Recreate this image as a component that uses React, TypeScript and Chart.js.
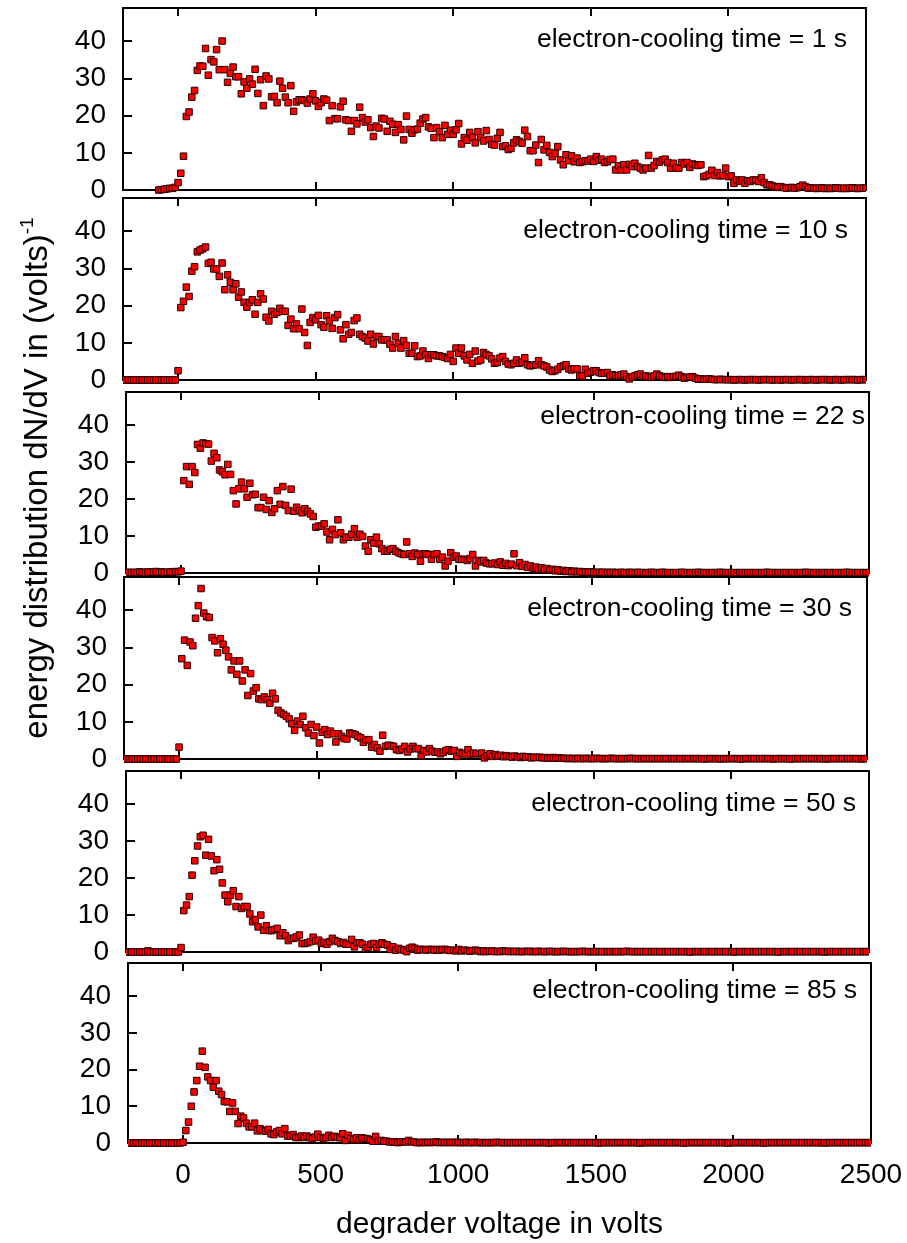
import React, { useEffect, useRef } from "react";
import { Chart, registerables } from "chart.js";

Chart.register(...registerables);

const FONT = "'Liberation Sans', Arial, Helvetica, sans-serif";
Chart.defaults.font.family = FONT;
Chart.defaults.color = "#000";

// ---- axes ----
const X_MIN = -200;
const X_MAX = 2500;
const Y_MIN = 0;
const Y_MAX = 49;
const X_TICKS = [0, 500, 1000, 1500, 2000, 2500];
const Y_TICKS = [0, 10, 20, 30, 40];
const X_TITLE = "degrader voltage in volts";
const Y_TITLE = "energy distribution dN/dV in (volts)";
const Y_TITLE_SUP = "-1";

// ---- data: dN/dV sampled every 10 V, starting at the given voltage ----
const VOLTAGE_STEP = 10;
const COOLING_TIMES = ["1", "10", "22", "30", "50", "85"];
const SERIES_START_VOLTAGE = [-70, -200, -200, -200, -200, -200];

const DIST_1S = [
  0, 0.1, 0.2, 0.3, 0.45, 0.45, 0.7,
  2.0, 4.5, 9.1, 19.8, 21, 25, 26.8, 32.2, 33.4, 33.3,
  38.1, 30.9, 35.1, 34.5, 37.8, 32.4, 40.1, 32.4, 29, 31.4,
  33.1, 30.5, 30.5, 25.9, 29.1, 27.4, 29.9, 28.5, 32.5, 26,
  29.7, 22.7, 30.7, 29.9, 25.1, 25.2, 23.5, 29.3, 27.4, 25,
  23.5, 28.1, 21.2, 23.7, 24.3, 24.3, 24.1, 23.4, 24.5, 25.9,
  24, 22.5, 23.5, 24.5, 24.2, 18.7, 22.7, 19.2, 19.2, 22.4,
  23.9, 18.9, 18.7, 15.8, 18.7, 17.8, 22.3, 19.5, 18.3, 18.9,
  16.8, 14.4, 17.2, 16.7, 19.3, 19.1, 15.8, 18.5, 17.7, 15.5,
  17.6, 16.3, 13.5, 19.9, 16.3, 15.3, 16.2, 16.4, 18, 19.1,
  19.5, 17, 16.6, 14.1, 16.8, 15.7, 14.1, 17.4, 15, 16.1,
  15, 16.2, 17.9, 12.4, 14.1, 13.4, 15.5, 14.2, 12.7, 15.7,
  14.1, 13.2, 16, 13.6, 12.3, 12.1, 13.9, 15.5, 11.7, 11.9,
  10.9, 11.2, 12.7, 13.5, 13.1, 12.6, 16.1, 14.4, 10.6, 10.6,
  12.1, 7.4, 13.6, 10.8, 12, 10.1, 9, 9.9, 11.7, 8.1,
  6.8, 9.5, 7.9, 9.2, 7.6, 8.6, 7.4, 7.6, 7.9, 7.8,
  8.3, 7.7, 9, 8, 8.3, 7.4, 7.6, 8.2, 8.3, 5.4,
  6.5, 5.4, 6.8, 5.4, 6.9, 6.3, 7.2, 6.3, 5.9, 5.4,
  5.9, 9.3, 5.9, 6.6, 7.7, 7.5, 8.1, 8.3, 7.4, 5.9,
  7.2, 5.9, 5.9, 7.4, 7, 7.4, 6.1, 7, 6.8, 6.6,
  6.8, 3.6, 3.8, 4.2, 5.3, 3.9, 4.7, 3.8, 3.9, 5.9,
  3.6, 3.8, 1.8, 2.7, 2.3, 2.7, 1.8, 2.5, 2.3, 2.7,
  2.7, 2.3, 3.3, 2, 1.4, 1.4, 1.1, 0.9, 0.7, 0.9,
  0.7, 0.5, 0.6, 0.7, 0.5, 0.6, 0.9, 1.3, 0.9, 0.5,
  0.6, 0.5, 0.4, 0.5, 0.6, 0.4, 0.5, 0.4, 0.5, 0.6,
  0.5, 0.4, 0.5, 0.4, 0.5, 0.6, 0.5, 0.4, 0.5, 0.5,
  0.5,
];

const DIST_10S = [
  0, 0, 0, 0, 0, 0, 0, 0, 0, 0,
  0, 0, 0, 0, 0, 0, 0, 0, 0, 0,
  2.5, 19.5, 21.2, 25, 22.5, 29.3, 30.5, 34.5, 35, 35.3,
  35.8, 31.4, 31.7, 29.9, 29.9, 27.9, 31.5, 24.3, 28.3, 26.3,
  24.3, 25.9, 22.3, 23.7, 20.9, 19.6, 20.9, 21.6, 17.7, 20.9,
  23.2, 21.8, 16.9, 15.9, 18.5, 17.7, 18.2, 19.3, 18.5, 18.5,
  14.7, 16.4, 13.8, 15.1, 13.8, 19.1, 12.8, 9.3, 15.5, 16.8,
  16.2, 17.4, 14.9, 14.2, 17.3, 15.9, 13.9, 16.8, 17.6, 13.5,
  11.1, 14.9, 12.3, 12.8, 16, 16.7, 12.3, 11.7, 11.3, 10.5,
  12.3, 9.7, 11.7, 11.7, 10.8, 10.8, 10.8, 9.6, 8.6, 11.7,
  9.9, 8.6, 10.6, 9.3, 7.2, 7.2, 9.2, 6.3, 6.5, 7.8,
  6.8, 5.8, 6.8, 6.8, 6.5, 6.5, 6.3, 6.1, 5.8, 6.9,
  5, 8.6, 7.2, 8.6, 6.5, 5.4, 6.9, 4.5, 7.8, 5.1,
  5.4, 7.4, 6.9, 6.5, 5.7, 4.5, 4.7, 5.9, 6.3, 5.0,
  4.3, 4.1, 4.5, 5.4, 4.5, 4.8, 6, 4.1, 3.8, 4.0,
  4.1, 5.2, 4.1, 3.8, 3.5, 2.7, 2.3, 2.5, 2.9, 3.6,
  3.8, 4.1, 3.0, 2.7, 3, 3, 1.1, 1.1, 2.9, 1.8,
  2.1, 2.5, 2.5, 2, 1.8, 1.9, 2.0, 1.1, 1.4, 1.2,
  1.1, 1.4, 1.6, 0.9, 0.3, 0.8, 1.1, 1.4, 1.6, 0.9,
  1.1, 0.9, 0.7, 1.1, 1.6, 1.1, 0.9, 0.7, 0.9, 0.7,
  0.9, 1.0, 1.3, 0.9, 0.5, 0.7, 0.8, 0.9, 0.5, 0.2,
  0.3, 0.2, 0.2, 0.3, 0.2, 0.1, 0.1, 0.2, 0.1, 0.1,
  0.1, 0.1, 0, 0.1, 0.1, 0.1, 0, 0.1, 0.1, 0.1,
  0.1, 0, 0.1, 0.1, 0.1, 0.1, 0, 0.1, 0.1, 0,
  0.1, 0.1, 0.1, 0, 0.1, 0.1, 0.1, 0.1, 0, 0.1,
  0.1, 0.1, 0, 0.1, 0.1, 0.1, 0.1, 0, 0.1, 0.1,
  0.1, 0, 0.1, 0.1, 0.1, 0.1, 0.1, 0, 0.1, 0.1,
  0.1,
];

const DIST_22S = [
  0.1, 0.2, 0.1, 0.2, 0.1, 0.3, 0.2, 0.1, 0.3, 0.2,
  0.2, 0.4, 0.2, 0.3, 0.1, 0.2, 0.3, 0.2, 0.4, 0.3,
  0.5, 25, 28.8, 24, 28.8, 27.2, 34.8, 33.8, 35.2, 35,
  34.9, 30.3, 32.4, 31.2, 27.9, 27.4, 26.6, 29.4, 26.7, 22.3,
  18.7, 22.8, 24.6, 22.8, 20.5, 24.3, 21.2, 21.3, 17.7, 17.7,
  20.5, 17.2, 19.6, 16.4, 17.4, 22.3, 18.6, 23.4, 18.3, 16.9,
  22.7, 16.7, 17.8, 16.9, 16.3, 17.4, 16.7, 16, 15.3, 12.4,
  12.7, 12.7, 13.3, 11.1, 9, 11.8, 10.4, 14.4, 10.9, 9,
  9.7, 9.7, 10.5, 12, 9.7, 10.5, 9.9, 7.3, 5.9, 9,
  8.1, 9.7, 7.9, 6.6, 5.9, 5.9, 6.4, 6.6, 5.9, 5.5,
  5.2, 5, 8.4, 5.2, 4.5, 5.4, 5, 3.2, 5.2, 5.2,
  5, 3.7, 5, 5.2, 3.7, 4.3, 1.9, 3.2, 5.5, 4.3,
  4.6, 3.7, 3.7, 3.7, 3.4, 3.9, 5, 1.9, 3.4, 3,
  3.4, 2.7, 2.5, 2.5, 2.7, 2.3, 3.0, 2.1, 2.6, 2.0,
  2.4, 5.2, 2.0, 2.8, 1.8, 2.3, 1.5, 1.9, 1.2, 1.6,
  1.0, 1.4, 0.9, 1.2, 0.8, 1.0, 0.6, 0.9, 0.5, 0.7,
  0.4, 0.6, 0.3, 0.5, 0.3, 0.4, 0.2, 0.3, 0.2, 0.3,
  0.2, 0.1, 0.2, 0.2, 0.1, 0.2, 0.1, 0.2, 0.1, 0.1,
  0.2, 0.1, 0.1, 0.2, 0.1, 0.1, 0.2, 0.1, 0.1, 0.1,
  0.1, 0.2, 0.1, 0.1, 0.1, 0.2, 0.1, 0.1, 0.1, 0.1,
  0.1, 0.1, 0.2, 0.1, 0.1, 0.1, 0.1, 0.1, 0.2, 0.1,
  0.1, 0.1, 0.1, 0.1, 0.1, 0.1, 0.2, 0.1, 0.1, 0.1,
  0.1, 0.1, 0.1, 0.1, 0.1, 0.1, 0.1, 0.1, 0.1, 0.1,
  0.1, 0.1, 0.1, 0.2, 0.1, 0.1, 0.1, 0.1, 0.1, 0.1,
  0.1, 0.1, 0.1, 0.1, 0.1, 0.1, 0.1, 0.2, 0.1, 0.1,
  0.1, 0.1, 0.1, 0.1, 0.1, 0.1, 0.1, 0.1, 0.1, 0.1,
  0.1, 0.1, 0.2, 0.1, 0.1, 0.1, 0.1, 0.1, 0.1, 0.1,
  0.1,
];

const DIST_30S = [
  0, 0, 0, 0, 0, 0, 0, 0, 0, 0,
  0, 0, 0, 0, 0, 0, 0, 0, 0, 0,
  3.2, 27, 32, 25.2, 31.5, 30.5, 37.9, 41.3, 45.9, 39.3,
  38.3, 38.1, 32.7, 31.8, 28.6, 32.4, 30.9, 29.3, 27.5, 24,
  26.4, 22.8, 26.4, 21, 24, 17.1, 23, 18.3, 19.2, 16.2,
  16, 16.7, 16, 15, 17.7, 16.2, 13.1, 12.4, 12, 11.5,
  10.8, 9.5, 7.7, 10.2, 9.3, 11.5, 8.4, 7, 9.3, 6.3,
  8.6, 4.3, 7.2, 7.9, 6.6, 7.5, 6.8, 4.6, 6.8, 6.1,
  5.5, 5.4, 7, 6.8, 6.6, 6.1, 5.7, 4.5, 5.2, 5.2,
  3.2, 3.9, 3, 2.1, 6.4, 3.4, 3.7, 3.6, 3.4, 2.5,
  2.3, 2.7, 3.4, 1.9, 2.7, 3.4, 2.8, 2.8, 0.9, 2.3,
  1.9, 2.8, 2.1, 1.8, 1.9, 1.4, 1.8, 2.3, 2.5, 2.1,
  2.3, 0.7, 1.8, 1.4, 1.4, 2.5, 1.2, 1.6, 1.4, 1.4,
  1.6, 0.3, 0.9, 1.4, 0.7, 1.2, 0.8, 1.0, 0.6, 0.9,
  0.7, 0.5, 0.8, 0.6, 0.4, 0.7, 0.5, 0.6, 0.3, 0.5,
  0.4, 0.5, 0.3, 0.4, 0.2, 0.3, 0.4, 0.2, 0.3, 0.2,
  0.2, 0.1, 0.2, 0.1, 0.1, 0.2, 0.1, 0.1, 0.2, 0.1,
  0.1, 0.1, 0.2, 0.1, 0.1, 0.1, 0.1, 0.2, 0.1, 0.1,
  0.1, 0.1, 0.1, 0.1, 0.2, 0.1, 0.1, 0.1, 0.1, 0.1,
  0.1, 0.1, 0.1, 0.1, 0.1, 0.1, 0.1, 0.1, 0.1, 0.1,
  0.1, 0.1, 0.1, 0.1, 0.1, 0.1, 0.1, 0.1, 0.1, 0.1,
  0.1, 0, 0.1, 0.1, 0.1, 0.1, 0.1, 0, 0.1, 0.1,
  0.1, 0.1, 0.1, 0.1, 0, 0.1, 0.1, 0.1, 0.1, 0.1,
  0.1, 0.1, 0.1, 0.1, 0.1, 0.1, 0, 0.1, 0.1, 0.1,
  0.1, 0.1, 0, 0.1, 0.1, 0.1, 0.1, 0.1, 0.1, 0.1,
  0.1, 0.1, 0.1, 0.1, 0.1, 0, 0.1, 0.1, 0.1, 0.1,
  0.1, 0.1, 0.1, 0.1, 0.1, 0.1, 0.1, 0.1, 0, 0.1,
  0.1,
];

const DIST_50S = [
  0, 0, 0, 0, 0, 0, 0, 0, 0.3, 0,
  0, 0, 0, 0, 0, 0, 0, 0, 0, 0,
  1.2, 11.2, 12.7, 15, 20.8, 24.7, 28.7, 31.2, 31.6, 26.2,
  30.5, 26, 22, 25, 22.4, 18.7, 15.4, 13.6, 15.4, 16.6,
  12.3, 15, 11.8, 12.3, 12.3, 10.3, 8.2, 8.8, 6.8, 10,
  5.9, 7.1, 5.8, 5.8, 6.1, 6.4, 4.4, 5.2, 4.4, 3.1,
  3.7, 3.7, 4.1, 4.6, 2.3, 2.3, 2.5, 2.8, 4, 3,
  3.2, 2.3, 2.6, 2.1, 2.8, 3.7, 3.1, 2.8, 2.3, 2.6,
  2.1, 2.1, 3.4, 1.4, 2.5, 2.5, 2.1, 1, 1.3, 2.1,
  2.3, 1.2, 2.1, 2.5, 2.1, 1.9, 0.7, 1.4, 0.5, 1,
  0.7, 0.5, 0.1, 1, 1.3, 1, 0.5, 0.7, 0.7, 0.5,
  0.7, 0.7, 0.5, 0.7, 0.5, 0.7, 0.7, 0.5, 0.4, 0.5,
  0.3, 0.7, 0.3, 0.5, 0.4, 0.2, 0.4, 0.5, 0.3, 0.1,
  0.3, 0.1, 0.2, 0.3, 0.1, 0.2, 0.1, 0.3, 0.2, 0.1,
  0.2, 0.1, 0.2, 0.1, 0.1, 0.2, 0.1, 0.2, 0.1, 0.1,
  0.2, 0.1, 0.1, 0.1, 0.2, 0.1, 0.1, 0.1, 0.1, 0.2,
  0.1, 0.1, 0.1, 0.1, 0.1, 0.1, 0.2, 0.1, 0.1, 0.1,
  0.1, 0.1, 0.1, 0.1, 0.1, 0.1, 0.1, 0.1, 0.1, 0.1,
  0.1, 0.1, 0.2, 0.1, 0.1, 0.1, 0.1, 0.1, 0.1, 0.1,
  0.1, 0.1, 0.1, 0.1, 0.1, 0.1, 0.1, 0.1, 0.1, 0.1,
  0.1, 0.1, 0.1, 0.1, 0.1, 0, 0.1, 0.1, 0.1, 0.1,
  0.1, 0.1, 0.1, 0.1, 0.1, 0.1, 0.1, 0.1, 0.1, 0.1,
  0.1, 0, 0.1, 0.1, 0.1, 0.1, 0.1, 0.1, 0.1, 0.1,
  0.1, 0.1, 0.1, 0.1, 0.1, 0.1, 0.1, 0, 0.1, 0.1,
  0.1, 0.1, 0.1, 0.1, 0.1, 0.1, 0.1, 0.1, 0.1, 0.1,
  0.1, 0.1, 0.1, 0.1, 0, 0.1, 0.1, 0.1, 0.1, 0.1,
  0.1, 0.1, 0.1, 0.1, 0.1, 0.1, 0.1, 0.1, 0.1, 0.1,
  0.1,
];

const DIST_85S = [
  0, 0, 0, 0, 0, 0, 0, 0, 0, 0,
  0, 0, 0, 0, 0, 0, 0, 0, 0, 0,
  0.2, 3.4, 5.7, 10, 13.9, 17, 20.9, 25, 20.6, 18,
  17, 15.2, 17, 14.1, 13.2, 11.3, 11.2, 8.6, 10.9, 8.6,
  5.3, 7.3, 6.8, 5.4, 4.4, 4.4, 5.4, 3.3, 3.9, 3.4,
  3.2, 3.7, 2.5, 2.3, 3, 3.4, 2.5, 3.9, 1.9, 1.9,
  2.3, 1.5, 1.5, 1.9, 1.5, 1.9, 1.5, 1.2, 1.6, 2.4,
  1.5, 1.2, 1.5, 2.1, 1.5, 1.8, 1.6, 1.4, 2.5, 0.7,
  2.1, 1.2, 0.9, 1.4, 0.9, 1.4, 1.2, 1.2, 0.9, 0.5,
  1.8, 0.5, 0.7, 0.5, 0.5, 0.3, 0.3, 0.3, 0.1, 0.3,
  0.3, 0.3, 0.7, 0.3, 0.3, 0.1, 0.1, 0.2, 0.1, 0.2,
  0.1, 0.2, 0.3, 0.1, 0.2, 0.1, 0.2, 0.1, 0.2, 0.1,
  0.2, 0.1, 0.1, 0.2, 0.1, 0.1, 0.2, 0.1, 0.1, 0.1,
  0.1, 0.1, 0.1, 0.1, 0.2, 0.1, 0.1, 0.1, 0.1, 0.1,
  0.1, 0.1, 0.1, 0.1, 0.1, 0.1, 0.1, 0.1, 0.1, 0.1,
  0.1, 0.1, 0.1, 0, 0.1, 0.1, 0.1, 0.1, 0.1, 0.1,
  0.1, 0.1, 0.1, 0.1, 0.1, 0.1, 0.1, 0.1, 0.1, 0.1,
  0.1, 0, 0.1, 0.1, 0.1, 0.1, 0.1, 0.1, 0.1, 0.1,
  0.1, 0.1, 0.1, 0.1, 0.1, 0.1, 0, 0.1, 0.1, 0.1,
  0.1, 0.1, 0.1, 0.1, 0.1, 0.1, 0.1, 0.1, 0.1, 0.1,
  0.1, 0.1, 0, 0.1, 0.1, 0.1, 0.1, 0.1, 0.1, 0.1,
  0.1, 0.1, 0.1, 0.1, 0.1, 0.1, 0.1, 0.1, 0, 0.1,
  0.1, 0.1, 0.1, 0.1, 0.1, 0.1, 0.1, 0.1, 0.1, 0.1,
  0.1, 0, 0.1, 0.1, 0.1, 0.1, 0.1, 0.1, 0.1, 0.1,
  0.1, 0.1, 0.1, 0.1, 0.1, 0.1, 0.1, 0.1, 0.1, 0.1,
  0.1, 0.1, 0.1, 0, 0.1, 0.1, 0.1, 0.1, 0.1, 0.1,
  0.1, 0.1, 0.1, 0.1, 0.1, 0.1, 0.1, 0.1, 0.1, 0.1,
  0.1,
];

const SERIES = [DIST_1S, DIST_10S, DIST_22S, DIST_30S, DIST_50S, DIST_85S];

// ---- layout (page pixels) ----
const PAGE_W = 907;
const PAD_TOP = 12;
const AXIS_H_SMALL = 12;
const AXIS_H_BOTTOM = 100;
const PANEL_BOX = [
  { left: 123, right: 866, top: 8, bottom: 190, labelRight: 847, labelBase: 47 },
  { left: 123, right: 866, top: 198, bottom: 380, labelRight: 848, labelBase: 238 },
  { left: 126, right: 869, top: 392, bottom: 573, labelRight: 865, labelBase: 424 },
  { left: 124, right: 867, top: 577, bottom: 759, labelRight: 852, labelBase: 616 },
  { left: 126, right: 869, top: 771, bottom: 952, labelRight: 856, labelBase: 811 },
  { left: 128, right: 871, top: 963, bottom: 1143, labelRight: 857, labelBase: 998 },
];

const framePlugin = {
  id: "gnuFrame",
  beforeDatasetsDraw(chart: any) {
    const { ctx, chartArea: a } = chart;
    const xs = chart.scales.x;
    const ys = chart.scales.y;
    ctx.save();
    ctx.strokeStyle = "#000";
    ctx.lineWidth = 2;
    ctx.beginPath();
    for (const v of Y_TICKS) {
      if (v <= Y_MIN) continue;
      const py = Math.round(ys.getPixelForValue(v));
      ctx.moveTo(a.left, py);
      ctx.lineTo(a.left + 9, py);
    }
    for (const v of X_TICKS) {
      if (v <= X_MIN || v >= X_MAX) continue;
      const px = Math.round(xs.getPixelForValue(v));
      ctx.moveTo(px, a.bottom);
      ctx.lineTo(px, a.bottom - 8);
      ctx.moveTo(px, a.top);
      ctx.lineTo(px, a.top + 8);
    }
    ctx.stroke();
    ctx.strokeRect(a.left, a.top, a.right - a.left, a.bottom - a.top);
    ctx.restore();
  },
  afterDatasetsDraw(chart: any, _args: any, opts: any) {
    const { ctx } = chart;
    ctx.save();
    ctx.font = `26.5px ${FONT}`;
    ctx.fillStyle = "#000";
    ctx.textAlign = "right";
    ctx.textBaseline = "alphabetic";
    ctx.fillText(opts.text, opts.x, opts.y);
    ctx.restore();
  },
};

function Panel({ index }: { index: number }) {
  const ref = useRef<HTMLCanvasElement | null>(null);
  const box = PANEL_BOX[index];
  const isBottom = index === PANEL_BOX.length - 1;
  const axisH = isBottom ? AXIS_H_BOTTOM : AXIS_H_SMALL;
  const height = PAD_TOP + (box.bottom - box.top) + axisH;
  const canvasTop = box.top - PAD_TOP;

  useEffect(() => {
    if (!ref.current) return;
    const values = SERIES[index];
    const start = SERIES_START_VOLTAGE[index];
    const points = values.map((v, i) => ({ x: start + i * VOLTAGE_STEP, y: v }));
    const chart = new Chart(ref.current, {
      type: "scatter",
      data: {
        datasets: [
          {
            data: points,
            pointStyle: "rect",
            pointRadius: 4.6,
            pointHoverRadius: 4.6,
            backgroundColor: "#ff0000",
            borderColor: "#2a0000",
            borderWidth: 1,
            showLine: false,
            clip: { left: 0, right: 0, top: 6, bottom: 6 } as any,
          },
        ],
      },
      options: {
        animation: false,
        responsive: false,
        events: [],
        layout: { padding: { left: 0, right: PAGE_W - box.right, top: PAD_TOP, bottom: 0 } },
        plugins: {
          legend: { display: false },
          tooltip: { enabled: false },
          gnuFrame: {
            text: `electron-cooling time = ${COOLING_TIMES[index]} s`,
            x: box.labelRight,
            y: box.labelBase - canvasTop,
          },
        } as any,
        scales: {
          x: {
            type: "linear",
            min: X_MIN,
            max: X_MAX,
            afterBuildTicks: (s: any) => {
              s.ticks = X_TICKS.map((v) => ({ value: v }));
            },
            afterFit: (s: any) => {
              s.height = axisH;
              s.paddingLeft = 0;
              s.paddingRight = 0;
              s.paddingTop = 0;
              s.paddingBottom = 0;
            },
            grid: { display: false, drawTicks: false },
            border: { display: false },
            ticks: {
              display: isBottom,
              color: "#000",
              font: { size: 28, family: FONT },
              padding: 15,
              maxRotation: 0,
              autoSkip: false,
              callback: (v: any) => String(v),
            },
            title: {
              display: isBottom,
              text: X_TITLE,
              color: "#000",
              font: { size: 30, family: FONT },
              padding: 0,
            },
          },
          y: {
            type: "linear",
            min: Y_MIN,
            max: Y_MAX,
            afterBuildTicks: (s: any) => {
              s.ticks = Y_TICKS.map((v) => ({ value: v }));
            },
            afterFit: (s: any) => {
              s.width = box.left;
              s.paddingLeft = 0;
              s.paddingRight = 0;
              s.paddingTop = 0;
              s.paddingBottom = 0;
            },
            grid: { display: false, drawTicks: false },
            border: { display: false },
            ticks: {
              color: "#000",
              font: { size: 28, family: FONT },
              padding: 17,
              callback: (v: any) => String(v),
            },
          },
        },
      },
      plugins: [framePlugin as any],
    });
    return () => chart.destroy();
  }, []);

  return (
    <canvas
      ref={ref}
      width={PAGE_W}
      height={height}
      style={{ position: "absolute", left: 0, top: canvasTop, width: PAGE_W, height }}
    />
  );
}

export default function App() {
  return (
    <div style={{ position: "absolute", left: 0, top: 0, width: 907, height: 1243, background: "#fff" }}>
      {PANEL_BOX.map((_, i) => (
        <Panel key={i} index={i} />
      ))}
      <div
        style={{
          position: "absolute",
          left: 36 - 400,
          top: 478 - 20,
          width: 800,
          height: 40,
          lineHeight: "40px",
          textAlign: "center",
          transform: "rotate(-90deg)",
          fontFamily: FONT,
          fontSize: 33,
          color: "#000",
          whiteSpace: "nowrap",
        }}
      >
        {Y_TITLE}
        <span
          style={{
            fontSize: 19,
            lineHeight: 0,
            position: "relative",
            top: "-0.75em",
            verticalAlign: "baseline",
          }}
        >
          {Y_TITLE_SUP}
        </span>
      </div>
    </div>
  );
}
